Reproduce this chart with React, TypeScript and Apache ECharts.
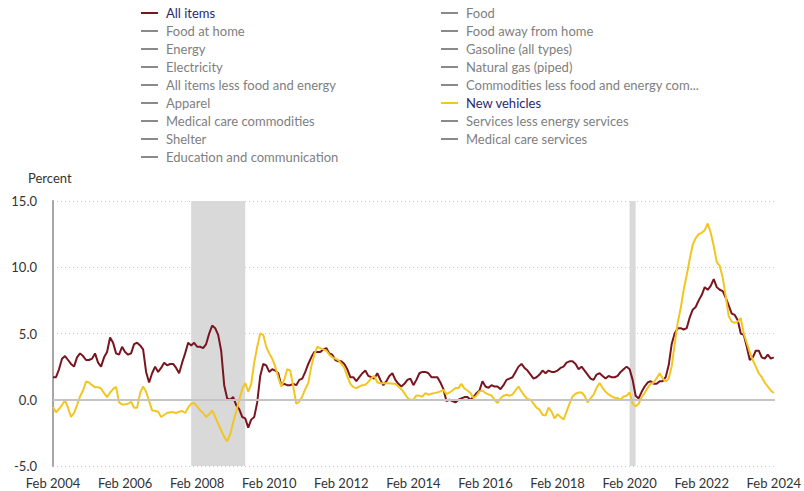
import React, { useEffect, useRef } from "react";
import * as echarts from "echarts";

// Months Feb 2004 .. Feb 2024
const START_YEAR = 2004;
const START_MONTH = 1; // 0-based: Feb
const MONTH_NAMES = ["Jan", "Feb", "Mar", "Apr", "May", "Jun", "Jul", "Aug", "Sep", "Oct", "Nov", "Dec"];

// 12-month percent change, All items
const allItems = [
  1.7, 1.7, 2.3, 3.1, 3.3, 3.0, 2.7, 2.5, 3.2, 3.5, 3.3,
  3.0, 3.0, 3.1, 3.5, 2.8, 2.5, 3.2, 3.6, 4.7, 4.3, 3.5, 3.4,
  4.0, 3.6, 3.4, 3.5, 4.2, 4.3, 4.1, 3.8, 2.1, 1.3, 2.0, 2.5,
  2.1, 2.4, 2.8, 2.6, 2.7, 2.7, 2.4, 2.0, 2.8, 3.5, 4.3, 4.1,
  4.3, 4.0, 4.0, 3.9, 4.2, 5.0, 5.6, 5.4, 4.9, 3.7, 1.1, 0.1,
  0.0, 0.2, -0.4, -0.7, -1.3, -1.4, -2.1, -1.5, -1.3, -0.2, 1.8, 2.7,
  2.6, 2.1, 2.3, 2.2, 2.0, 1.1, 1.2, 1.1, 1.1, 1.2, 1.1, 1.5,
  1.6, 2.1, 2.7, 3.2, 3.6, 3.6, 3.6, 3.8, 3.9, 3.5, 3.4, 3.0,
  2.9, 2.9, 2.7, 2.3, 1.7, 1.7, 1.4, 1.7, 2.0, 2.2, 1.8, 1.7,
  1.6, 2.0, 1.5, 1.1, 1.4, 1.8, 2.0, 1.5, 1.2, 1.0, 1.2, 1.5,
  1.6, 1.1, 1.5, 2.0, 2.1, 2.1, 2.0, 1.7, 1.7, 1.7, 1.3, 0.8,
  -0.1, 0.0, -0.1, -0.2, 0.0, 0.1, 0.2, 0.2, 0.0, 0.2, 0.5, 0.7,
  1.4, 1.0, 0.9, 1.1, 1.0, 1.0, 0.8, 1.1, 1.5, 1.6, 1.7, 2.1,
  2.5, 2.7, 2.4, 2.2, 1.9, 1.6, 1.7, 1.9, 2.2, 2.0, 2.2, 2.1,
  2.1, 2.2, 2.4, 2.5, 2.8, 2.9, 2.9, 2.7, 2.3, 2.5, 2.2, 1.9,
  1.6, 1.5, 1.9, 2.0, 1.8, 1.6, 1.8, 1.7, 1.7, 1.8, 2.1, 2.3,
  2.5, 2.3, 1.5, 0.3, 0.1, 0.6, 1.0, 1.3, 1.4, 1.2, 1.2, 1.4,
  1.4, 1.7, 2.6, 4.2, 5.0, 5.4, 5.4, 5.3, 5.4, 6.2, 6.8, 7.0,
  7.5, 7.9, 8.5, 8.3, 8.6, 9.1, 8.5, 8.3, 8.2, 7.7, 7.1, 6.5,
  6.4, 6.0, 5.0, 4.9, 4.0, 3.0, 3.2, 3.7, 3.7, 3.2, 3.1, 3.4,
  3.1, 3.2,
];

// 12-month percent change, New vehicles
const newVehicles = [
  -0.55, -0.95, -0.7, -0.4, -0.05, -0.6, -1.3, -1.0, -0.4, 0.25, 0.7,
  1.38, 1.3, 1.1, 0.95, 0.95, 0.85, 0.5, 0.2, 0.55, 0.8, 0.97, -0.2,
  -0.35, -0.35, -0.3, -0.15, -0.6, -0.6, 0.5, 1.0, 0.6, -0.1, -0.8, -0.85,
  -0.9, -1.3, -1.15, -1.0, -0.95, -0.95, -1.0, -0.9, -0.85, -1.0, -0.6, -0.3,
  -0.25, -0.5, -0.8, -1.0, -1.3, -1.1, -0.8, -1.3, -1.8, -2.3, -2.8, -3.15,
  -2.6, -1.7, -0.9, 0.0, 0.8, 1.26, 0.6, 1.2, 2.8, 4.0, 5.0, 4.9,
  4.0, 3.5, 3.1, 2.5, 1.7, 1.0, 1.5, 2.3, 2.2, 1.0, -0.3, -0.15,
  0.25, 0.8, 1.26, 2.5, 3.4, 4.0, 3.9, 3.8, 3.7, 3.4, 3.2, 3.1,
  3.0, 2.7, 2.4, 1.76, 1.2, 0.95, 0.88, 1.0, 1.1, 1.13, 1.35, 1.63,
  1.8, 1.3, 1.25, 1.25, 1.25, 1.25, 1.2, 1.2, 1.0, 0.8, 0.5, 0.15,
  0.0, 0.0, 0.33, 0.3, 0.23, 0.5, 0.38, 0.45, 0.5, 0.55, 0.63, 0.75,
  0.43, 0.55, 0.7, 0.88, 0.88, 1.2, 0.85, 0.7, 0.5, 0.13, 0.3, 0.63,
  0.7, 0.5, 0.4, 0.33, 0.0, -0.25, 0.1, 0.3, 0.38, 0.3, 0.4, 0.7,
  1.0, 0.63, 0.3, 0.05, 0.0, -0.3, -0.6, -0.75, -1.13, -1.2, -0.6, -0.9,
  -1.4, -1.1, -1.3, -1.5, -0.9, -0.3, 0.25, 0.45, 0.55, 0.55, 0.3, -0.2,
  0.1, 0.38, 0.9, 1.26, 0.9, 0.6, 0.4, 0.25, 0.15, 0.13, 0.0, 0.25,
  0.3, 0.55, -0.3, -0.5, -0.3, 0.2, 0.5, 0.9, 1.2, 1.3, 1.63, 2.0,
  1.6, 1.38, 1.6, 2.5, 4.2, 5.8, 6.9, 8.3, 9.4, 10.6, 11.7, 12.2,
  12.5, 12.6, 12.8, 13.3, 12.6, 11.6, 10.4, 10.1, 9.2, 7.8, 6.3, 5.9,
  5.8, 5.9, 6.15, 5.0, 4.3, 3.6, 3.0, 2.5, 2.0, 1.7, 1.3, 1.0,
  0.7, 0.5,
];

const legendCol1 = [
  "All items",
  "Food at home",
  "Energy",
  "Electricity",
  "All items less food and energy",
  "Apparel",
  "Medical care commodities",
  "Shelter",
  "Education and communication",
];
const legendCol2 = [
  "Food",
  "Food away from home",
  "Gasoline (all types)",
  "Natural gas (piped)",
  "Commodities less food and energy com...",
  "New vehicles",
  "Services less energy services",
  "Medical care services",
];

const recessions = [
  ["Dec 2007", "Jun 2009"],
  ["Feb 2020", "Apr 2020"],
];

const yTicks = { min: -5, max: 15, interval: 5 };

const RED = "#7a1520";
const YELLOW = "#f2c622";
const GREY_ICON = "#8a8a8a";
const GREY_TEXT = "#808080";
const ACTIVE_TEXT = "#2a2a6a";
const FONT = "Lato";

function buildMonths(n: number): string[] {
  const out: string[] = [];
  for (let i = 0; i < n; i++) {
    const t = START_MONTH + i;
    const y = START_YEAR + Math.floor(t / 12);
    out.push(MONTH_NAMES[t % 12] + " " + y);
  }
  return out;
}

export default function App() {
  const ref = useRef<HTMLDivElement>(null);
  useEffect(() => {
    if (!ref.current) return;
    document.body.style.margin = "0";
    const chart = echarts.init(ref.current, undefined, { renderer: "svg" });
    const months = buildMonths(allItems.length);
    const active: Record<string, string> = { "All items": RED, "New vehicles": YELLOW };
    const allNames = [...legendCol1, ...legendCol2];
    const series: any[] = [
      {
        type: "line",
        name: "__bg",
        data: [],
        z: 1,
        silent: true,
        markArea: {
          silent: true,
          itemStyle: { color: "#d9d9d9" },
          data: recessions.map(([a, b]) => [{ xAxis: a }, { xAxis: b }]),
        },
        markLine: {
          silent: true,
          symbol: "none",
          label: { show: false },
          lineStyle: { color: "#c4c4c4", type: "solid", width: 2 },
          data: [{ yAxis: 0 }],
        },
      },
    ];
    allNames.forEach((nm) => {
      if (nm === "All items") {
        series.push({
          type: "line", name: nm, data: allItems, showSymbol: false, z: 3,
          lineStyle: { color: RED, width: 2 }, itemStyle: { color: RED },
        });
      } else if (nm === "New vehicles") {
        series.push({
          type: "line", name: nm, data: newVehicles, showSymbol: false, z: 3,
          lineStyle: { color: YELLOW, width: 2 }, itemStyle: { color: YELLOW },
        });
      } else {
        series.push({
          type: "line", name: nm, data: [], showSymbol: false,
          lineStyle: { color: GREY_ICON, width: 2 }, itemStyle: { color: GREY_ICON },
        });
      }
    });
    const legendBase = {
      orient: "vertical",
      top: 6,
      padding: 0,
      itemWidth: 17,
      itemHeight: 2,
      itemGap: 4,
      icon: "rect",
      selectedMode: false,
      textStyle: { fontFamily: FONT, fontSize: 13, color: GREY_TEXT, lineHeight: 14, padding: [0, 0, 0, 3] },
    };
    const mkData = (arr: string[]) =>
      arr.map((n) => ({
        name: n,
        itemStyle: { color: active[n] || GREY_ICON },
        textStyle: { color: active[n] ? ACTIVE_TEXT : GREY_TEXT },
      }));
    chart.setOption({
      animation: false,
      backgroundColor: "#ffffff",
      textStyle: { fontFamily: FONT },
      legend: [
        { ...legendBase, left: 141, data: mkData(legendCol1) },
        { ...legendBase, left: 441, data: mkData(legendCol2) },
      ],
      graphic: [
        {
          type: "text",
          left: 28,
          top: 171,
          style: { text: "Percent", fontFamily: FONT, fontSize: 13, fill: "#333333" },
        },
      ],
      grid: { left: 53, right: 27, top: 201, bottom: 25, containLabel: false },
      xAxis: {
        type: "category",
        data: months,
        boundaryGap: false,
        axisLine: { show: true, lineStyle: { color: "#a6a6a6", width: 2 } },
        axisTick: { show: false },
        axisLabel: {
          interval: 23,
          showMaxLabel: true,
          color: "#333333",
          fontFamily: FONT,
          fontSize: 13,
          margin: 10,
        },
        splitLine: { show: false },
      },
      yAxis: {
        type: "value",
        min: yTicks.min,
        max: yTicks.max,
        interval: yTicks.interval,
        axisLine: { show: true, lineStyle: { color: "#a6a6a6", width: 2 } },
        axisTick: { show: false },
        axisLabel: {
          formatter: (v: number) => v.toFixed(1),
          color: "#333333",
          fontFamily: FONT,
          fontSize: 13,
          margin: 16,
        },
        splitLine: { show: true, lineStyle: { color: "#c8c8c8", type: [1, 3], width: 1 } },
      },
      series,
    });
    return () => chart.dispose();
  }, []);
  return <div ref={ref} style={{ width: 804, height: 491 }} />;
}
